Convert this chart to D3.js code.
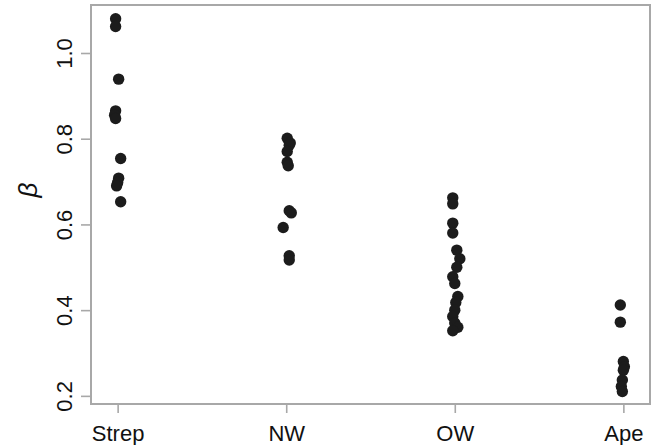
<!DOCTYPE html>
<html>
<head>
<meta charset="utf-8">
<script src="https://cdn.jsdelivr.net/npm/d3@7"></script>
<style>
  body { margin: 0; background: #fff; }
  svg { display: block; }
  text { font-family: "Liberation Sans", Arial, sans-serif; fill: #111; }
</style>
</head>
<body>
<div id="chart"></div>
<script>
// groups along the x axis
var groups = ["Strep", "NW", "OW", "Ape"];
var yTicks = [0.2, 0.4, 0.6, 0.8, 1.0];

// beta values per group
var strepVals = [1.08, 1.062, 0.939, 0.865, 0.855, 0.847, 0.754, 0.708, 0.698, 0.69, 0.653];
var nwVals = [0.801, 0.79, 0.785, 0.77, 0.745, 0.737, 0.632, 0.627, 0.593, 0.527, 0.517];
var owVals = [0.662, 0.648, 0.603, 0.58, 0.54, 0.52, 0.50, 0.478, 0.462, 0.432, 0.418, 0.40, 0.385, 0.37, 0.36, 0.352];
var apeVals = [0.412, 0.372, 0.28, 0.268, 0.26, 0.237, 0.222, 0.21];

// horizontal jitter, in category units
var strepJit = [-0.012, -0.012, 0.006, -0.012, -0.018, -0.012, 0.018, 0.006, 0, -0.006, 0.018];
var nwJit = [0.006, 0.024, 0.018, 0.006, 0.006, 0.012, 0.018, 0.03, -0.018, 0.018, 0.018];
var owJit = [-0.012, -0.012, -0.012, -0.012, 0.012, 0.03, 0.012, -0.012, 0, 0.018, 0.006, 0, -0.012, 0, 0.018, -0.012];
var apeJit = [-0.018, -0.018, 0, 0.006, 0, -0.006, -0.012, -0.006];

var W = 657, H = 445;
var mLeft = 91, mRight = 650, mTop = 5, mBottom = 404;

var allVals = [strepVals, nwVals, owVals, apeVals];
var allJit = [strepJit, nwJit, owJit, apeJit];
var points = [];
allVals.forEach(function(vals, g){
  vals.forEach(function(v, i){
    points.push({grp: g + 1 + allJit[g][i], val: v});
  });
});

var svg = d3.select("#chart").append("svg")
  .attr("width", W)
  .attr("height", H);

var x = d3.scaleLinear().domain([0.842, 4.158]).range([mLeft, mRight]);
var y = d3.scaleLinear().domain([0.181, 1.112]).range([mBottom, mTop]);

// x axis
var xAxis = svg.append("g")
  .attr("transform", "translate(0," + (mBottom + 1) + ")")
  .call(d3.axisBottom(x).tickValues([1, 2, 3, 4])
    .tickFormat(function(d){ return groups[d - 1]; })
    .tickSize(8));
xAxis.select(".domain").remove();
xAxis.selectAll("line").attr("stroke", "#a8a8a8").attr("stroke-width", 1.6);
xAxis.selectAll("text")
  .attr("y", 36)
  .attr("dy", null)
  .style("font-size", "22px")
  .style("fill", "#111");

// y axis
var yAxis = svg.append("g")
  .attr("transform", "translate(" + (mLeft - 1) + ",0)")
  .call(d3.axisLeft(y).tickValues(yTicks).tickFormat(d3.format(".1f")).tickSize(9));
yAxis.select(".domain").remove();
yAxis.selectAll("line").attr("stroke", "#a8a8a8").attr("stroke-width", 1.6);
yAxis.selectAll("text")
  .attr("x", null)
  .attr("dy", null)
  .attr("text-anchor", "middle")
  .attr("transform", "translate(-18,0) rotate(-90)")
  .style("font-size", "22px")
  .style("fill", "#111");

// frame
svg.append("rect")
  .attr("x", mLeft)
  .attr("y", mTop)
  .attr("width", mRight - mLeft)
  .attr("height", mBottom - mTop)
  .attr("fill", "none")
  .attr("stroke", "#a8a8a8")
  .attr("stroke-width", 2);

// y label
svg.append("text")
  .attr("transform", "translate(37,190) rotate(-90)")
  .attr("text-anchor", "middle")
  .style("font-size", "26px")
  .style("font-style", "italic")
  .text("\u03B2");

// points
svg.selectAll(".pt")
  .data(points)
  .enter().append("circle")
  .attr("class", "pt")
  .attr("cx", function(d){ return x(d.grp); })
  .attr("cy", function(d){ return y(d.val); })
  .attr("r", 5.7)
  .attr("fill", "#1c1c1c");
</script>
</body>
</html>
